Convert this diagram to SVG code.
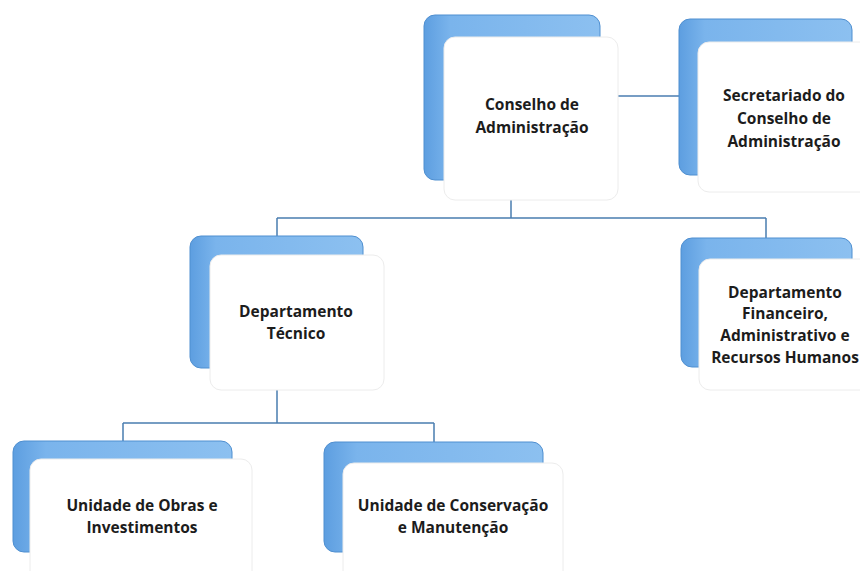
<svg xmlns="http://www.w3.org/2000/svg" width="860" height="571" viewBox="0 0 860 571">
<defs>
<linearGradient id="blueGrad" x1="0" y1="0" x2="1" y2="0">
<stop offset="0" stop-color="#5d9ee0"/>
<stop offset="0.15" stop-color="#7ab4ec"/>
<stop offset="1" stop-color="#8cc0f0"/>
</linearGradient>
<style>
.back{fill:url(#blueGrad);stroke:#4f8fd0;stroke-width:1}
.front{fill:#ffffff;stroke:#ececec;stroke-width:1}
.lbl{font-family:"Open Sans","Liberation Sans",sans-serif;font-weight:700;font-size:15.5px;fill:#1c1c1c;text-anchor:middle}
.conn{fill:none;stroke:#4a7db0;stroke-width:1.5}
</style>
</defs>
<rect width="860" height="571" fill="#ffffff"/>
<g id="connectors">
<path class="conn" d="M618,96 H679"/>
<path class="conn" d="M511,200 V218 M277,218 H766 M277,218 V236 M766,218 V238"/>
<path class="conn" d="M277,390 V423 M123,423 H434 M123,423 V441 M434,423 V442"/>
</g>
<g id="conselho">
<rect class="back" x="424" y="15" width="176" height="165" rx="11"/>
<rect class="front" x="444" y="37" width="174" height="163" rx="11"/>
<text class="lbl" x="532" y="110">Conselho de</text>
<text class="lbl" x="532" y="133">Administração</text>
</g>
<g id="secretariado">
<rect class="back" x="679" y="19" width="173" height="156" rx="11"/>
<rect class="front" x="698" y="42" width="174" height="150" rx="11"/>
<text class="lbl" x="784" y="101">Secretariado do</text>
<text class="lbl" x="784" y="124">Conselho de</text>
<text class="lbl" x="784" y="147">Administração</text>
</g>
<g id="dep-tecnico">
<rect class="back" x="190" y="236" width="173" height="132" rx="11"/>
<rect class="front" x="210" y="255" width="174" height="135" rx="11"/>
<text class="lbl" x="296" y="317">Departamento</text>
<text class="lbl" x="296" y="339">Técnico</text>
</g>
<g id="dep-financeiro">
<rect class="back" x="681" y="238" width="171" height="129" rx="11"/>
<rect class="front" x="699" y="259" width="174" height="131" rx="11"/>
<text class="lbl" x="785" y="298">Departamento</text>
<text class="lbl" x="785" y="319">Financeiro,</text>
<text class="lbl" x="785" y="341">Administrativo e</text>
<text class="lbl" x="785" y="363">Recursos Humanos</text>
</g>
<g id="unidade-obras">
<rect class="back" x="13" y="441" width="219" height="111" rx="11"/>
<rect class="front" x="30" y="459" width="222" height="125" rx="11"/>
<text class="lbl" x="142" y="511">Unidade de Obras e</text>
<text class="lbl" x="142" y="533">Investimentos</text>
</g>
<g id="unidade-conservacao">
<rect class="back" x="324" y="442" width="219" height="110" rx="11"/>
<rect class="front" x="343" y="463" width="220" height="121" rx="11"/>
<text class="lbl" x="453" y="511">Unidade de Conservação</text>
<text class="lbl" x="453" y="533">e Manutenção</text>
</g>
</svg>
